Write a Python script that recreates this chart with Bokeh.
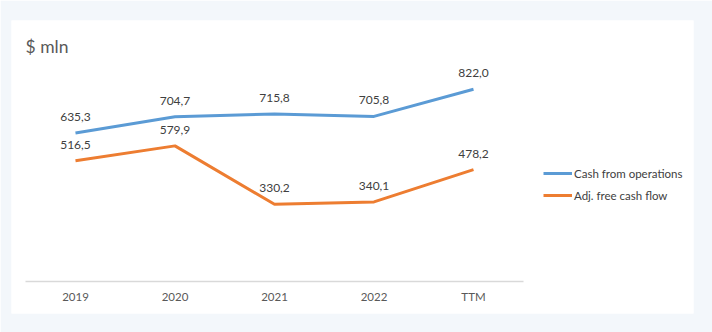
from bokeh.plotting import figure
from bokeh.models import (ColumnDataSource, Range1d, LinearAxis, FixedTicker,
                          Legend, LegendItem, Label)
from bokeh.core.properties import value
from bokeh.embed import file_html
from bokeh.resources import INLINE

categories = ["2019", "2020", "2021", "2022", "TTM"]
cash_from_operations = [635.3, 704.7, 715.8, 705.8, 822.0]
adj_free_cash_flow = [516.5, 579.9, 330.2, 340.1, 478.2]

xpos = list(range(len(categories)))

def fmt(v):
    return f"{v:.1f}".replace(".", ",")

src_cfo = ColumnDataSource(dict(x=xpos, y=cash_from_operations,
                                lbl=[fmt(v) for v in cash_from_operations]))
src_fcf = ColumnDataSource(dict(x=xpos, y=adj_free_cash_flow,
                                lbl=[fmt(v) for v in adj_free_cash_flow]))

FONT = "Lato"
BLUE = "#5B9BD5"
ORANGE = "#ED7D31"

p = figure(width=712, height=332, output_backend="svg", toolbar_location=None,
           x_axis_location=None, y_axis_location=None,
           x_range=Range1d(-0.643, 6.211), y_range=Range1d(-137, 1116),
           min_border_left=11, min_border_right=19, min_border_top=20,
           min_border_bottom=19)
p.border_fill_color = "#F3F7FB"
p.background_fill_color = "white"
p.outline_line_color = None
p.xgrid.visible = False
p.ygrid.visible = False
p.grid.visible = False

xaxis = LinearAxis(fixed_location=0, bounds=(-0.5, 4.5),
                   ticker=FixedTicker(ticks=xpos),
                   major_label_overrides={i: c for i, c in zip(xpos, categories)})
xaxis.axis_line_color = "#D9D9D9"
xaxis.axis_line_width = 1.5
xaxis.major_tick_line_color = None
xaxis.minor_tick_line_color = None
xaxis.major_tick_out = 0
xaxis.major_tick_in = 0
xaxis.major_label_standoff = 9
xaxis.major_label_text_font = FONT
xaxis.major_label_text_font_size = "11.5px"
xaxis.major_label_text_color = "#595959"
p.add_layout(xaxis, "below")

r1 = p.line("x", "y", source=src_cfo, line_color=BLUE, line_width=3)
r2 = p.line("x", "y", source=src_fcf, line_color=ORANGE, line_width=3)

for src in (src_cfo, src_fcf):
    p.text("x", "y", text="lbl", source=src, y_offset=-16,
           text_align="center", text_baseline="middle",
           text_font=value(FONT), text_font_size="12px", text_color="#404040")

title = Label(x=14, y=267, x_units="screen", y_units="screen", text="$ mln",
              text_font=FONT, text_font_size="17.5px", text_color="#595959",
              text_baseline="middle", text_align="left")
p.add_layout(title)

legend = Legend(items=[LegendItem(label="Cash from operations", renderers=[r1]),
                       LegendItem(label="Adj. free cash flow", renderers=[r2])],
                location=(532, 108), orientation="vertical",
                glyph_width=29, glyph_height=20, label_height=20,
                label_standoff=2, spacing=2, padding=0, margin=0,
                border_line_color=None, background_fill_alpha=0,
                label_text_font=FONT, label_text_font_size="11.5px",
                label_text_color="#404040")
p.add_layout(legend, "center")

open("out.html", "w").write(file_html(p, INLINE))
